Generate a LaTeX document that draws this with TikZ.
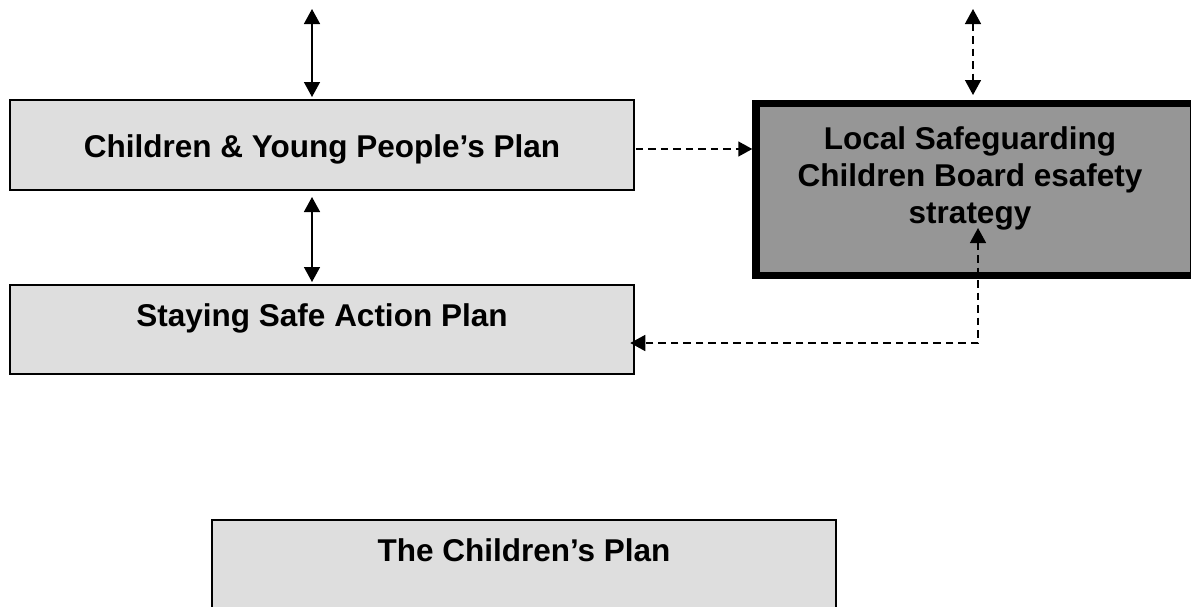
\documentclass[tikz,border=0pt]{standalone}
\usepackage{fontspec}
\setmainfont{Liberation Sans}
\usepackage{tikz}
\usetikzlibrary{positioning}
\usetikzlibrary{arrows.meta}

\definecolor{planfill}{HTML}{DEDEDE}
\definecolor{boardfill}{HTML}{969696}

\begin{document}
\begin{tikzpicture}[x=1pt, y=-1pt]

    \tikzset{
        plan/.style={
            draw,
            rectangle,
            line width=1.5pt,
            fill=planfill,
            inner sep=0pt
        },
        board/.style={
            draw,
            rectangle,
            line width=7.5pt,
            fill=boardfill,
            inner sep=0pt
        },
        caption/.style={
            inner sep=0pt,
            font=\bfseries\fontsize{31.5}{37}\selectfont,
            align=center
        },
        twoway/.style={
            {Triangle[length=15pt,width=16pt]}-{Triangle[length=15pt,width=16pt]},
            line width=1.5pt
        },
        oneway/.style={
            -{Triangle[length=14pt,width=15pt]},
            line width=1.5pt
        },
        dashes/.style={
            dash pattern=on 7.5pt off 5pt
        }
    }

    \useasboundingbox (0,0) rectangle (1191,606);

    % plan boxes
    \node[plan, minimum width=624pt, minimum height=90pt] (cyp) at (322,145) {};
    \node[caption, below=35.5pt of cyp.north] (cyptext) {Children \& Young People’s Plan};

    \node[plan, minimum width=624pt, minimum height=89pt] (ssap) at (322,329.5) {};
    \node[caption, below=18.75pt of ssap.north] (ssaptext) {Staying Safe Action Plan};

    \node[board, minimum width=438pt, minimum height=172pt] (lscb) at (975,189.5) {};
    \node[caption, below=26.25pt of lscb.north, xshift=-5pt] (lscbtext)
        {Local Safeguarding\\Children Board esafety\\strategy};

    \node[plan, minimum width=624pt, minimum height=100pt] (tcp) at (524,570) {};
    \node[caption, below=18.75pt of tcp.north] (tcptext) {The Children’s Plan};

    % links
    \coordinate (inL) at (312,9);
    \coordinate (inR) at (973,9);
    \coordinate (back) at (978,228);

    \draw[twoway, shorten >=2.25pt] (inL) -- (inL |- cyp.north);
    \draw[twoway, shorten <=6.25pt, shorten >=2.25pt] (inL |- cyp.south) -- (inL |- ssap.north);
    \draw[twoway, dashes, shorten >=4.75pt] (inR) -- (inR |- lscb.north);

    \draw[oneway, dashes, shorten <=1pt] ([yshift=-4pt]cyp.east) -- ([yshift=-4pt]cyp.east -| lscb.west);
    \draw[twoway, dashes, shorten >=-4.5pt] (back) |- ([yshift=-13.5pt]ssap.east);

\end{tikzpicture}
\end{document}
